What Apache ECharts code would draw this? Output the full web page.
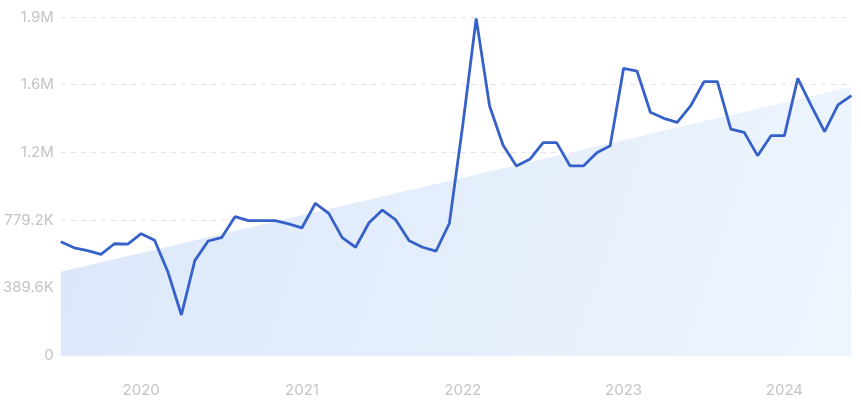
<!DOCTYPE html>
<html>
<head>
<meta charset="utf-8">
<script src="https://cdn.jsdelivr.net/npm/echarts@6/dist/echarts.min.js"></script>
<style>
html,body{margin:0;padding:0;background:#fff;}
#chart{width:861px;height:402px;}
</style>
</head>
<body>
<div id="chart"></div>
<script>
const months = [
  '2019-07','2019-08','2019-09','2019-10','2019-11','2019-12',
  '2020-01','2020-02','2020-03','2020-04','2020-05','2020-06','2020-07','2020-08','2020-09','2020-10','2020-11','2020-12',
  '2021-01','2021-02','2021-03','2021-04','2021-05','2021-06','2021-07','2021-08','2021-09','2021-10','2021-11','2021-12',
  '2022-01','2022-02','2022-03','2022-04','2022-05','2022-06','2022-07','2022-08','2022-09','2022-10','2022-11','2022-12',
  '2023-01','2023-02','2023-03','2023-04','2023-05','2023-06','2023-07','2023-08','2023-09','2023-10','2023-11','2023-12',
  '2024-01','2024-02','2024-03','2024-04','2024-05','2024-06'
];
const searches = [
  655000, 620000, 603000, 582000, 643000, 641000,
  701000, 663000, 480000, 233000, 546000, 659000, 678000, 799000, 776000, 776000, 776000, 757000,
  735000, 876000, 818000, 678000, 623000, 764000, 837000, 780000, 661000, 623000, 601000, 761000,
  1327000, 1940000, 1436000, 1211000, 1091000, 1129000, 1225000, 1225000, 1091000, 1091000, 1167000, 1207000,
  1653000, 1637000, 1400000, 1365000, 1342000, 1436000, 1576000, 1576000, 1303000, 1284000, 1150000, 1265000,
  1265000, 1595000, 1438000, 1288000, 1442000, 1495000
];
const trendStart = 482000;
const trendEnd = 1547000;
const yTicks = [0, 389600, 779200, 1168800, 1558400, 1948000];

function fmt(v) {
  if (v === 0) return '0';
  if (v >= 1e6) return (v / 1e6).toFixed(1).replace(/\.0$/, '') + 'M';
  return (v / 1000).toFixed(1).replace(/\.0$/, '') + 'K';
}

const chart = echarts.init(document.getElementById('chart'), null, {renderer: 'canvas'});
chart.setOption({
  animation: false,
  grid: {left: 59.3, right: 9.6, top: 17, bottom: 46.5, containLabel: false},
  xAxis: {
    type: 'category',
    data: months,
    boundaryGap: false,
    axisLine: {show: true, lineStyle: {color: '#e8eef7', width: 1}},
    axisTick: {show: false},
    splitLine: {show: false},
    axisLabel: {
      color: '#c4c4c4',
      fontSize: 15,
      fontFamily: 'Inter',
      margin: 27,
      interval: function (i, v) { return v.slice(5) === '01'; },
      formatter: function (v) { return v.slice(0, 4); }
    }
  },
  yAxis: {
    type: 'value',
    min: yTicks[0],
    max: yTicks[yTicks.length - 1],
    interval: yTicks[1] - yTicks[0],
    axisLine: {show: false},
    axisTick: {show: false},
    splitLine: {show: true, lineStyle: {color: '#e2e4e8', type: [5, 5], width: 1}},
    axisLabel: {color: '#c4c4c4', fontSize: 15, fontFamily: 'Inter', margin: 7, formatter: fmt}
  },
  series: [
    {
      type: 'line',
      data: [[0, trendStart], [months.length - 1, trendEnd]],
      symbol: 'none',
      lineStyle: {width: 0, opacity: 0},
      areaStyle: {
        opacity: 1,
        color: new echarts.graphic.LinearGradient(0, 0, 1, 1, [
          {offset: 0, color: '#dbe7fa'},
          {offset: 1, color: '#eef5fd'}
        ])
      },
      z: 1,
      silent: true
    },
    {
      type: 'line',
      data: searches,
      symbol: 'none',
      lineStyle: {color: '#3561c9', width: 2.8},
      z: 3
    }
  ]
});
</script>
</body>
</html>
